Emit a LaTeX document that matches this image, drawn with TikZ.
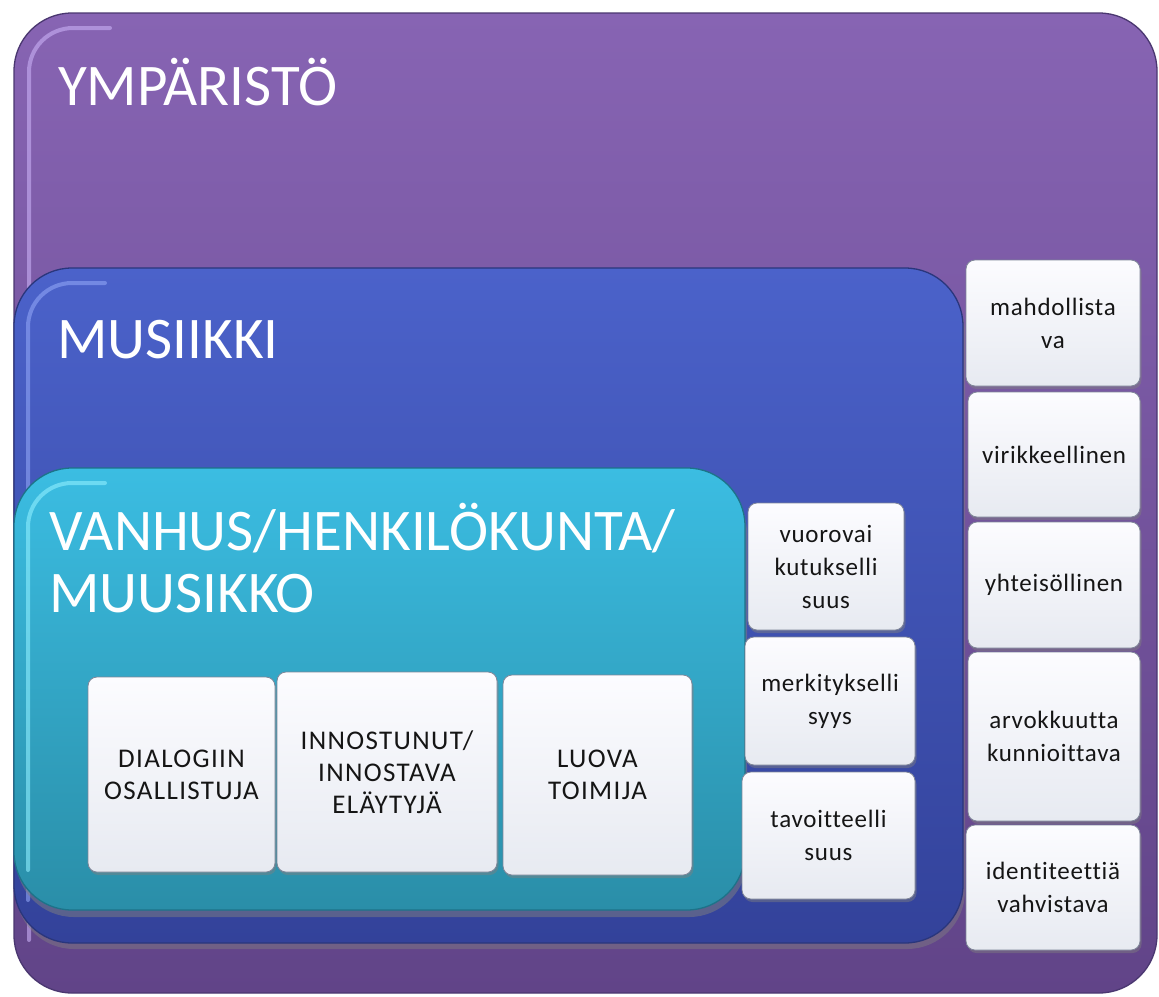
\documentclass[tikz,border=0pt]{standalone}
\usepackage{fontspec}
\setmainfont[Ligatures=NoCommon]{Carlito}
\newfontfamily\smallcardfont[LetterSpace=3, Ligatures=NoCommon]{Carlito}
\newfontfamily\capscardfont[LetterSpace=5, Ligatures=NoCommon]{Carlito}
\usetikzlibrary{shadows}
\definecolor{envtop}{HTML}{8764B3}
\definecolor{envbot}{HTML}{614488}
\definecolor{envline}{HTML}{4A3770}
\definecolor{envhl}{HTML}{C9B0F5}
\definecolor{mustop}{HTML}{4B62CA}
\definecolor{musbot}{HTML}{33429A}
\definecolor{musline}{HTML}{2A367C}
\definecolor{mushl}{HTML}{8FA4F5}
\definecolor{pertop}{HTML}{3BBDE2}
\definecolor{perbot}{HTML}{2A8EA8}
\definecolor{perline}{HTML}{1D7389}
\definecolor{perhl}{HTML}{8FEFFF}
\definecolor{cardtop}{HTML}{FCFCFF}
\definecolor{cardbot}{HTML}{E7EAF1}
\definecolor{cardline}{HTML}{7E8598}
\definecolor{cardtext}{HTML}{151515}
\tikzset{
  bigpane/.style={anchor=north west, inner sep=0pt, outer sep=0pt, rounded corners=58pt, line width=1.3pt},
  envbox/.style={bigpane, draw=envline, top color=envtop, bottom color=envbot},
  musbox/.style={bigpane, draw=musline, top color=mustop, bottom color=musbot,
    drop shadow={shadow xshift=2pt, shadow yshift=-6pt, opacity=0.45}},
  perbox/.style={bigpane, draw=perline, top color=pertop, bottom color=perbot,
    drop shadow={shadow xshift=2pt, shadow yshift=-7pt, opacity=0.5}},
  bigtitle/.style={anchor=base west, inner sep=0pt, text=white, font=\fontsize{59}{64}\selectfont},
  hlstroke/.style={line width=4pt, rounded corners=44pt, line cap=round, opacity=0.6},
  card/.style={anchor=north west, inner sep=0pt, outer sep=0pt, rounded corners=9pt,
    draw=cardline, line width=0.8pt, top color=cardtop, bottom color=cardbot,
    align=center, text=cardtext,
    drop shadow={shadow xshift=1.5pt, shadow yshift=-3pt, opacity=0.45}},
  smallcard/.style={card, font=\smallcardfont\fontsize{25}{33}\selectfont},
  capscard/.style={card, font=\capscardfont\fontsize{27}{32}\selectfont},
}
\begin{document}
\begin{tikzpicture}[x=1pt, y=-1pt]
\useasboundingbox (0,0) rectangle (1159,996);
\fill[white] (0,0) rectangle (1159,996);

% outer environment pane
\node[envbox, minimum width=1143pt, minimum height=980pt] (env) at (14,13) {};
\draw[hlstroke, envhl] (29,940) -- (29,28) -- (110,28);
\node[bigtitle] (envtitle) at (58,105) {YMPÄRISTÖ};

% music pane
\node[musbox, minimum width=949pt, minimum height=675pt] (mus) at (14,268) {};
\draw[hlstroke, mushl] (28,900) -- (28,283) -- (105,283);
\node[bigtitle] (mustitle) at (57,358) {MUSIIKKI};

% person pane
\node[perbox, minimum width=731pt, minimum height=442pt] (per) at (14,468) {};
\draw[hlstroke, perhl] (28,870) -- (28,483) -- (105,483);
\node[bigtitle] (pertitleA) at (49,550) {VANHUS/HENKILÖKUNTA/};
\node[bigtitle] (pertitleB) at (49,612) {MUUSIKKO};

% inner cards
\node[capscard, minimum width=187pt, minimum height=195pt] (dial) at (88,677) {DIALOGIIN\\OSALLISTUJA};
\node[capscard, minimum width=220pt, minimum height=200pt] (inno) at (277,672) {INNOSTUNUT/\\INNOSTAVA\\ELÄYTYJÄ};
\node[capscard, minimum width=189pt, minimum height=200pt] (luova) at (503,675) {LUOVA\\TOIMIJA};

% middle column
\node[smallcard, minimum width=156pt, minimum height=127pt] (vuoro) at (748,503) {vuorovai\\kutukselli\\suus};
\node[smallcard, minimum width=170pt, minimum height=128pt] (merk) at (745,637) {merkitykselli\\syys};
\node[smallcard, minimum width=173pt, minimum height=127pt] (tavo) at (742,772) {tavoitteelli\\suus};

% right column
\node[smallcard, minimum width=174pt, minimum height=126pt] (mahd) at (966,260) {mahdollista\\va};
\node[smallcard, minimum width=172pt, minimum height=125pt] (viri) at (968,392) {virikkeellinen};
\node[smallcard, minimum width=172pt, minimum height=126pt] (yht) at (968,522) {yhteisöllinen};
\node[smallcard, minimum width=172pt, minimum height=169pt] (arvo) at (968,652) {arvokkuutta\\kunnioittava};
\node[smallcard, minimum width=174pt, minimum height=125pt] (iden) at (966,825) {identiteettiä\\vahvistava};
\end{tikzpicture}
\end{document}
